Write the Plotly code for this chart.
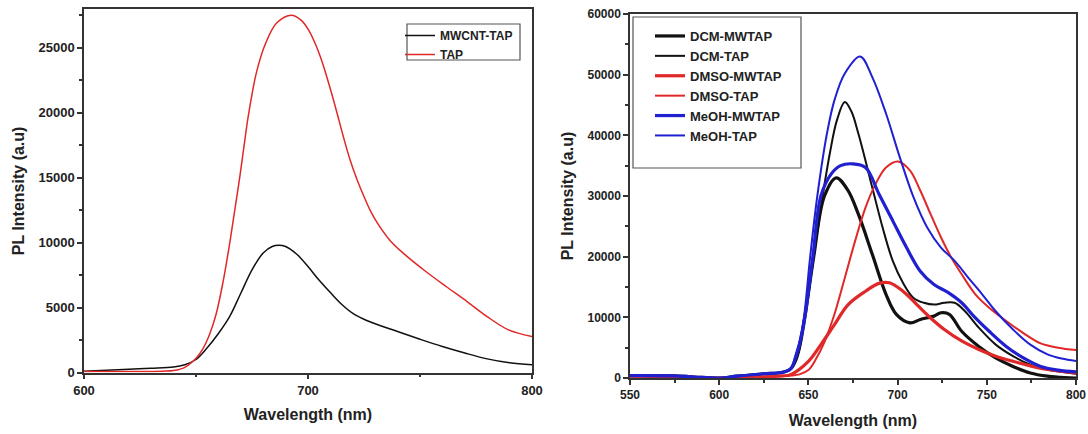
import plotly.graph_objects as go

# ---------------- Left panel data ----------------
left_wl_tap = [600, 620, 635, 640, 645, 650, 653, 656, 659, 662, 665, 667.5, 669.5, 671.5, 673.4, 677, 681, 686, 692.6,
               697, 700.3, 703.5, 706.5, 709.5, 712.6, 715.7, 718.8, 722, 725, 728, 731, 737, 743.4, 752.6, 761.8, 771, 780, 789.5, 800]
left_tap = [80, 80, 100, 150, 400, 1100, 1800, 2900, 4500, 6900, 9900, 12700, 15000, 17500, 19800, 23100, 25300, 26900, 27500,
            27100, 26350, 25200, 23800, 22100, 20200, 18200, 16360, 14800, 13540, 12400, 11490, 10080, 9050, 7770, 6600, 5460, 4300, 3280, 2770]

left_wl_mw = [600, 610, 620, 630, 640, 645, 650, 655, 660, 665, 670, 675, 680, 684, 687, 690, 695, 700, 705,
              710, 715, 720, 725, 730, 740, 750, 760, 770, 780, 790, 800]
left_mw = [100, 180, 250, 320, 420, 600, 1000, 1900, 3000, 4300, 6100, 7900, 9200, 9700, 9800, 9700, 9100, 8150, 7100,
           6150, 5250, 4550, 4100, 3750, 3150, 2560, 2000, 1500, 1050, 750, 600]

# ---------------- Right panel data ----------------
dcm_mw_wl = [550, 575, 590, 600, 610, 625, 635, 640, 643, 645, 648, 653, 659, 665.6, 672, 678, 685.8, 693.5,
             699.3, 707, 712.7, 720.4, 724.3, 729, 735.9, 745.5, 755, 764.7, 774.4, 784, 793.6, 800]
dcm_mw = [400, 350, 100, 0, 300, 700, 900, 1500, 3000, 5000, 10000, 20000, 30000, 33000, 31000, 27000, 20400, 13800,
          10500, 9100, 9650, 10200, 10750, 10500, 7700, 5200, 3300, 1900, 830, 300, 50, 0]

dcm_tap_wl = [550, 575, 590, 600, 610, 625, 635, 640, 643, 645, 648, 653, 658, 662, 666, 670.4, 674, 678, 685.8,
              691.6, 697.3, 703, 708.9, 714.7, 720.4, 726.2, 732, 737.8, 745.5, 755, 764.7, 774.4, 784, 800]
dcm_tap = [400, 350, 100, 0, 300, 700, 900, 1500, 3000, 5000, 10000, 20000, 30000, 37000, 42500, 45500, 44000, 40300, 31400,
           24800, 19300, 15700, 13200, 12400, 12100, 12400, 12400, 11000, 8300, 5500, 3600, 2200, 1400, 700]

dmso_mw_wl = [550, 575, 590, 600, 610, 625, 635, 640, 650, 657, 664.6, 672.3, 682, 689.6, 695.4, 703, 710.8,
              718.5, 726.2, 735.9, 745.5, 755, 764.7, 774.4, 784, 800]
dmso_mw = [300, 250, 50, 0, 100, 200, 350, 550, 2750, 5500, 8800, 12100, 14300, 15600, 15700, 14300, 12100,
           9900, 8000, 6100, 4700, 3600, 2750, 2000, 1400, 800]

dmso_tap_wl = [550, 575, 590, 600, 610, 625, 635, 640, 645, 650, 654, 658.8, 664.6, 670.4, 676.2, 682, 687.7, 693.5,
               700.2, 707, 712.7, 718.5, 724.3, 730, 735.9, 743.6, 751.3, 760.9, 770.5, 780.2, 790, 800]
dmso_tap = [300, 250, 50, 0, 100, 200, 300, 400, 600, 1300, 3000, 5800, 10500, 16500, 22600, 28100, 32000, 34700,
            35700, 34200, 30900, 27000, 23200, 19900, 17100, 13800, 11600, 9400, 7400, 5700, 5000, 4600]

meoh_mw_wl = [550, 575, 590, 600, 610, 625, 635, 640, 643, 645, 648, 652.5, 657, 662.7, 668, 674.8, 682, 689.6,
              697.3, 705, 712.7, 720.4, 728.2, 735.9, 743.6, 751.3, 760.9, 770.5, 780.2, 790, 800]
meoh_mw = [400, 350, 100, 0, 300, 700, 900, 1500, 3500, 5500, 10000, 20000, 30000, 33600, 35000, 35300, 34700, 30300,
           25900, 21500, 17600, 15400, 14100, 12400, 9900, 7700, 5200, 3300, 1900, 1300, 1000]

meoh_tap_wl = [550, 575, 590, 600, 610, 625, 635, 640, 643, 645, 647.5, 651, 655, 660.4, 664.6, 670.4, 679,
               685.8, 693.5, 701.2, 708.9, 716.6, 724.3, 732, 739.7, 747.4, 755, 764.7, 774.4, 784, 792, 800]
meoh_tap = [400, 350, 100, 0, 300, 700, 900, 1500, 4000, 6000, 10000, 20000, 30000, 40300, 45800, 50200, 53000,
            49600, 43600, 36400, 29800, 24800, 21500, 19300, 16500, 13800, 11000, 8000, 5500, 3900, 3200, 2800]

left_xticks = [600, 700, 800]
left_yticks = [0, 5000, 10000, 15000, 20000, 25000]
right_xticks = [550, 600, 650, 700, 750, 800]
right_yticks = [0, 10000, 20000, 30000, 40000, 50000, 60000]

BLACK = "#111111"
RED = "#e02828"
BLUE = "#2020d0"
AX = "#333333"
FONT = "Liberation Sans"
SMOOTH = 1.0

fig = go.Figure()

fig.add_trace(go.Scatter(x=left_wl_mw, y=left_mw, name="MWCNT-TAP", mode="lines",
                         line=dict(color=BLACK, width=1.5, shape="spline", smoothing=SMOOTH),
                         xaxis="x", yaxis="y", legend="legend"))
fig.add_trace(go.Scatter(x=left_wl_tap, y=left_tap, name="TAP", mode="lines",
                         line=dict(color=RED, width=1.5, shape="spline", smoothing=SMOOTH),
                         xaxis="x", yaxis="y", legend="legend"))

right_series = [
    ("DCM-MWTAP", dcm_mw_wl, dcm_mw, BLACK, 3.2),
    ("DCM-TAP", dcm_tap_wl, dcm_tap, BLACK, 2.0),
    ("DMSO-MWTAP", dmso_mw_wl, dmso_mw, RED, 3.2),
    ("DMSO-TAP", dmso_tap_wl, dmso_tap, RED, 2.0),
    ("MeOH-MWTAP", meoh_mw_wl, meoh_mw, BLUE, 3.2),
    ("MeOH-TAP", meoh_tap_wl, meoh_tap, BLUE, 2.0),
]
for name, xs, ys, col, w in right_series:
    fig.add_trace(go.Scatter(x=xs, y=ys, name=name, mode="lines",
                             line=dict(color=col, width=w, shape="spline", smoothing=SMOOTH),
                             xaxis="x2", yaxis="y2", legend="legend2"))

# body margin is removed in the page, so the figure fills the window exactly
W, H = 1088, 434

def px(v):
    return v / W

def py(v):
    return 1 - v / H

def tfont(size):
    return dict(family=FONT, size=size, color="#222", weight="bold")

axis_common = dict(showline=True, linecolor=AX, linewidth=1.5, mirror=True, ticks="outside",
                   ticklen=5, tickwidth=1.5, tickcolor=AX, showgrid=False, zeroline=False,
                   automargin=False, tickformat="d", ticklabeloverflow="allow")

minor_style = dict(ticks="outside", ticklen=3, tickcolor=AX, tickwidth=1.5)

fig.update_layout(
    width=W, height=H, margin=dict(l=0, r=0, t=0, b=0, autoexpand=False),
    paper_bgcolor="white", plot_bgcolor="white",
    font=dict(family=FONT, color="#222"),
    xaxis=dict(domain=[px(84), px(532)], range=[600, 800], anchor="y", tickvals=left_xticks,
               minor=dict(tickvals=[650, 750], **minor_style), tickfont=tfont(13),
               title=dict(text="Wavelength (nm)", font=tfont(16), standoff=12),
               **axis_common),
    yaxis=dict(domain=[py(372.5), py(9.3)], range=[0, 27950], anchor="x", tickvals=left_yticks,
               minor=dict(dtick=2500, **minor_style), tickfont=tfont(13),
               title=dict(text="PL Intensity (a.u)", font=tfont(16), standoff=10),
               **axis_common),
    xaxis2=dict(domain=[px(630), px(1076)], range=[550, 800], anchor="y2", tickvals=right_xticks,
                minor=dict(dtick=25, **minor_style), tickfont=tfont(12),
                title=dict(text="Wavelength (nm)", font=tfont(16), standoff=14),
                **axis_common),
    yaxis2=dict(domain=[py(378), py(14)], range=[0, 60000], anchor="x2", tickvals=right_yticks,
                minor=dict(dtick=5000, **minor_style), tickfont=tfont(12),
                title=dict(text="PL Intensity (a.u)", font=tfont(16), standoff=10),
                **axis_common),
    legend=dict(x=px(400), y=py(21), xanchor="left", yanchor="top", bgcolor="rgba(0,0,0,0)",
                borderwidth=0, font=tfont(12), tracegroupgap=0),
    legend2=dict(x=px(650), y=py(21), xanchor="left", yanchor="top", bgcolor="rgba(0,0,0,0)",
                 borderwidth=0, font=tfont(13), tracegroupgap=0),
    shapes=[
        dict(type="rect", xref="paper", yref="paper", x0=px(407), x1=px(520), y0=py(60), y1=py(24),
             line=dict(color="#555", width=1.2), fillcolor="rgba(0,0,0,0)", layer="above"),
        dict(type="rect", xref="paper", yref="paper", x0=px(633), x1=px(801), y0=py(168), y1=py(17),
             line=dict(color="#555", width=1.2), fillcolor="rgba(0,0,0,0)", layer="above"),
    ],
    showlegend=True,
)

fig.write_html("out.html", config={"displayModeBar": False},
               post_script="document.body.style.margin='0';document.body.style.overflow='hidden';")
